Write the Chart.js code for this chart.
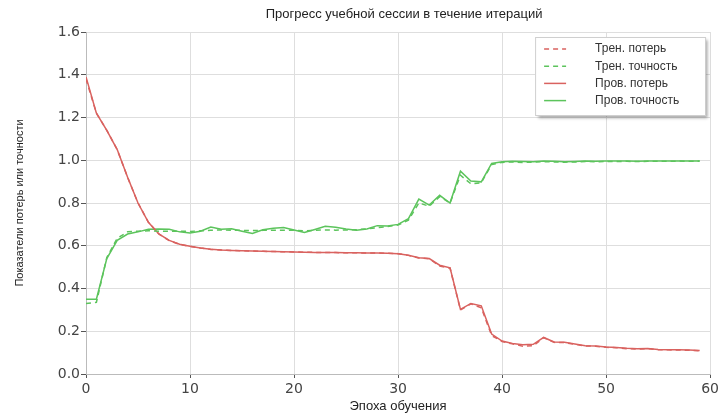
<!DOCTYPE html>
<html>
<head>
<meta charset="utf-8">
<script src="https://cdn.jsdelivr.net/npm/chart.js@4.4.1/dist/chart.umd.min.js"></script>
<style>
  html, body { margin: 0; padding: 0; background: #fff; }
</style>
</head>
<body>
<canvas id="grafico" width="722" height="415"></canvas>
<script>
// Datos
const titulo = 'Прогресс учебной сессии в течение итераций';
const tituloX = 'Эпоха обучения';
const tituloY = 'Показатели потерь или точности';
const etiquetas = ['Трен. потерь', 'Трен. точность', 'Пров. потерь', 'Пров. точность'];

const epocas = [0, 1, 2, 3, 4, 5, 6, 7, 8, 9, 10, 11, 12, 13, 14, 15, 16, 17, 18, 19,
  20, 21, 22, 23, 24, 25, 26, 27, 28, 29, 30, 31, 32, 33, 34, 35, 36, 37, 38, 39,
  40, 41, 42, 43, 44, 45, 46, 47, 48, 49, 50, 51, 52, 53, 54, 55, 56, 57, 58, 59];

// pérdida de entrenamiento (línea discontinua roja)
const perdidaTren = [1.38, 1.22, 1.14, 1.05, 0.92, 0.80, 0.71, 0.655, 0.624, 0.606,
  0.597, 0.589, 0.583, 0.580, 0.578, 0.577, 0.575, 0.574, 0.573, 0.572,
  0.571, 0.570, 0.569, 0.568, 0.568, 0.567, 0.567, 0.566, 0.566, 0.565,
  0.563, 0.555, 0.543, 0.539, 0.505, 0.495, 0.300, 0.328, 0.310, 0.180,
  0.152, 0.141, 0.130, 0.132, 0.170, 0.148, 0.147, 0.139, 0.131, 0.130,
  0.125, 0.123, 0.118, 0.117, 0.118, 0.114, 0.113, 0.112, 0.111, 0.108];

// precisión de entrenamiento (línea discontinua verde)
const precisionTren = [0.33, 0.335, 0.545, 0.635, 0.665, 0.668, 0.670, 0.668, 0.668, 0.668,
  0.667, 0.670, 0.672, 0.674, 0.672, 0.672, 0.671, 0.672, 0.673, 0.673,
  0.672, 0.670, 0.672, 0.674, 0.673, 0.674, 0.675, 0.679, 0.684, 0.690,
  0.697, 0.720, 0.800, 0.785, 0.830, 0.800, 0.930, 0.890, 0.895, 0.980,
  0.990, 0.992, 0.990, 0.991, 0.993, 0.992, 0.991, 0.992, 0.994, 0.993,
  0.994, 0.994, 0.995, 0.994, 0.995, 0.995, 0.995, 0.996, 0.995, 0.996];

// pérdida de validación (línea continua roja)
const perdidaVal = [1.39, 1.22, 1.14, 1.05, 0.92, 0.80, 0.71, 0.655, 0.625, 0.607,
  0.598, 0.590, 0.584, 0.580, 0.578, 0.577, 0.575, 0.574, 0.573, 0.572,
  0.571, 0.570, 0.569, 0.568, 0.568, 0.567, 0.567, 0.566, 0.566, 0.565,
  0.563, 0.556, 0.544, 0.540, 0.509, 0.497, 0.302, 0.330, 0.319, 0.187,
  0.154, 0.143, 0.137, 0.139, 0.171, 0.150, 0.148, 0.140, 0.132, 0.131,
  0.126, 0.124, 0.120, 0.118, 0.119, 0.115, 0.114, 0.113, 0.112, 0.110];

// precisión de validación (línea continua verde)
const precisionVal = [0.35, 0.35, 0.54, 0.625, 0.655, 0.665, 0.677, 0.678, 0.677, 0.665,
  0.660, 0.668, 0.688, 0.677, 0.679, 0.668, 0.657, 0.675, 0.682, 0.685,
  0.674, 0.662, 0.676, 0.691, 0.686, 0.678, 0.673, 0.678, 0.694, 0.692,
  0.700, 0.727, 0.818, 0.790, 0.836, 0.800, 0.949, 0.903, 0.899, 0.985,
  0.993, 0.995, 0.994, 0.993, 0.996, 0.995, 0.993, 0.994, 0.996, 0.995,
  0.996, 0.996, 0.996, 0.995, 0.996, 0.996, 0.997, 0.997, 0.996, 0.997];

const ticksY = [0, 0.2, 0.4, 0.6, 0.8, 1.0, 1.2, 1.4, 1.6];
const ticksX = [0, 10, 20, 30, 40, 50, 60];

const rojo = '#d9625f';
const verde = '#5cc45c';

function puntos(valores) {
  return epocas.map((e, i) => ({ x: e, y: valores[i] }));
}

// Plugin para el título y la leyenda con sombra
const decoracion = {
  id: 'decoracion',
  afterDraw(chart) {
    const ctx = chart.ctx;
    const area = chart.chartArea;
    ctx.save();
    ctx.font = '13px "Liberation Sans", Arial, sans-serif';
    ctx.fillStyle = '#222';
    ctx.textAlign = 'center';
    ctx.textBaseline = 'middle';
    ctx.fillText(titulo, (area.left + area.right) / 2 + 6, 14);

    // caja de la leyenda
    const x0 = area.right - 175, y0 = area.top + 5, w = 170, h = 78;
    ctx.shadowColor = 'rgba(0,0,0,0.35)';
    ctx.shadowOffsetX = 3;
    ctx.shadowOffsetY = 3;
    ctx.shadowBlur = 3;
    ctx.fillStyle = '#fff';
    ctx.fillRect(x0, y0, w, h);
    ctx.shadowColor = 'transparent';
    ctx.strokeStyle = '#cfcfcf';
    ctx.lineWidth = 1;
    ctx.strokeRect(x0 + 0.5, y0 + 0.5, w, h);

    chart.data.datasets.forEach((ds, i) => {
      const y = y0 + 12 + i * 17.2;
      ctx.strokeStyle = ds.borderColor;
      ctx.lineWidth = 1.5;
      ctx.setLineDash(ds.borderDash || []);
      ctx.beginPath();
      ctx.moveTo(x0 + 9, y);
      ctx.lineTo(x0 + 31, y);
      ctx.stroke();
      ctx.setLineDash([]);
      ctx.fillStyle = '#333';
      ctx.textAlign = 'left';
      ctx.font = '12px "Liberation Sans", Arial, sans-serif';
      ctx.fillText(ds.label, x0 + 60, y);
    });
    ctx.restore();
  }
};

const ctx = document.getElementById('grafico').getContext('2d');
const grafico = new Chart(ctx, {
  type: 'line',
  data: {
    datasets: [
      { label: etiquetas[0], data: puntos(perdidaTren), borderColor: rojo, borderDash: [5, 4], borderWidth: 1.5, pointRadius: 0, tension: 0 },
      { label: etiquetas[1], data: puntos(precisionTren), borderColor: verde, borderDash: [5, 4], borderWidth: 1.5, pointRadius: 0, tension: 0 },
      { label: etiquetas[2], data: puntos(perdidaVal), borderColor: rojo, borderWidth: 1.5, pointRadius: 0, tension: 0 },
      { label: etiquetas[3], data: puntos(precisionVal), borderColor: verde, borderWidth: 1.5, pointRadius: 0, tension: 0 }
    ]
  },
  options: {
    responsive: false,
    animation: false,
    layout: { padding: { top: 32, right: 10, left: 0, bottom: 0 } },
    plugins: {
      legend: { display: false },
      title: { display: false },
      tooltip: { enabled: false }
    },
    scales: {
      x: {
        type: 'linear',
        min: 0,
        max: 60,
        afterBuildTicks: (s) => { s.ticks = ticksX.map(v => ({ value: v })); },
        afterFit: (s) => { s.height = 41; },
        grid: { color: '#dedede', tickColor: '#555', tickLength: 4 },
        border: { color: '#bbb' },
        ticks: { color: '#444', padding: 3, maxRotation: 0, font: { family: 'DejaVu Sans', size: 14 } },
        title: { display: true, text: tituloX, color: '#222', padding: { top: 0, bottom: 1 }, font: { family: 'Liberation Sans', size: 13 } }
      },
      y: {
        min: 0,
        max: 1.6,
        afterBuildTicks: (s) => { s.ticks = ticksY.map(v => ({ value: v })); },
        afterFit: (s) => { s.width = 86; },
        grid: { color: '#dedede', tickColor: '#555', tickLength: 5 },
        border: { color: '#bbb' },
        ticks: { color: '#444', padding: 1, font: { family: 'DejaVu Sans', size: 14 }, callback: (v) => v.toFixed(1) },
        title: { display: true, text: tituloY, color: '#222', padding: { top: 13, bottom: 0 }, font: { family: 'Liberation Sans', size: 11 } }
      }
    }
  },
  plugins: [decoracion]
});
</script>
</body>
</html>
